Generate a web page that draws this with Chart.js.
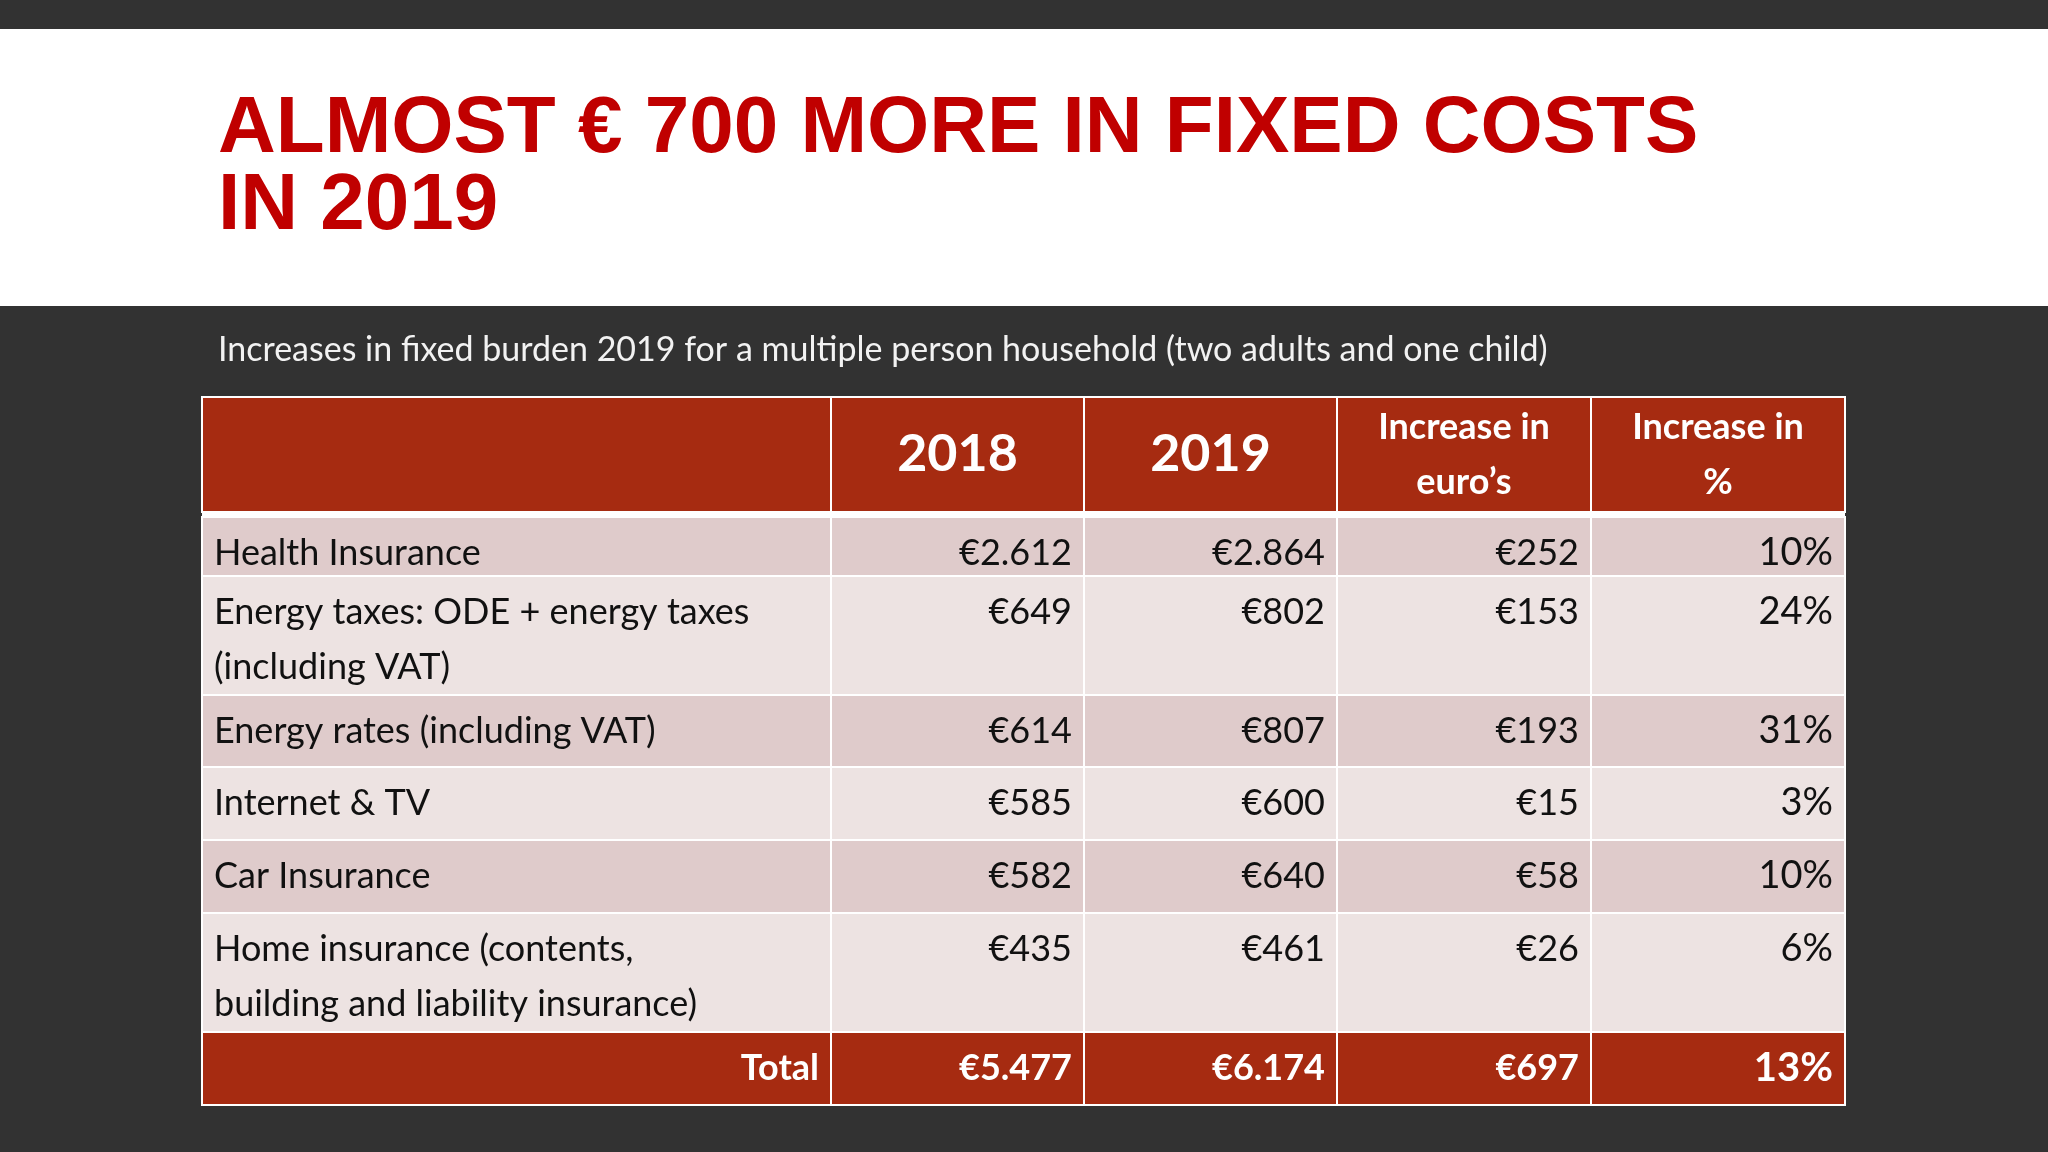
<!DOCTYPE html>
<html>
<head>
<meta charset="utf-8">
<script src="https://cdn.jsdelivr.net/npm/chart.js@4/dist/chart.umd.min.js"></script>
<style>
  html, body { margin: 0; padding: 0; background: #323232; }
  #wrap { width: 2048px; height: 1152px; }
</style>
</head>
<body>
<div id="wrap"><canvas id="myChart" width="2048" height="1152"></canvas></div>
<script>
// table content
const headers = ['', '2018', '2019', 'Increase in\neuro\u2019s', 'Increase in\n%'];
const categories = ['Health Insurance', 'Energy taxes: ODE + energy taxes\n(including VAT)', 'Energy rates (including VAT)', 'Internet & TV', 'Car Insurance', 'Home insurance (contents,\nbuilding and liability insurance)'];
const values2018 = ['€2.612', '€649', '€614', '€585', '€582', '€435'];
const values2019 = ['€2.864', '€802', '€807', '€600', '€640', '€461'];
const increaseEur = ['€252', '€153', '€193', '€15', '€58', '€26'];
const increasePct = ['10%', '24%', '31%', '3%', '10%', '6%'];
const totals = ['Total', '€5.477', '€6.174', '€697', '13%'];

// grid (in page units)
const colEdges = [202, 831, 1084, 1337, 1591, 1845];
const rowEdges = [397, 512, 517, 576, 695, 767, 840, 913, 1032, 1105];

const FONT = 'Lato, "Open Sans", sans-serif';

const tablePlugin = {
  id: 'table',
  beforeDraw(chart) {
    const c = chart.ctx, xs = chart.scales.x, ys = chart.scales.y;
    const X = v => xs.getPixelForValue(v), Y = v => ys.getPixelForValue(v);
    c.save();
    c.fillStyle = '#323232';
    c.fillRect(0, 0, chart.width, chart.height);
    c.fillStyle = '#ffffff';
    c.fillRect(X(0), Y(29), X(2048) - X(0), Y(306) - Y(29));

    // title
    c.fillStyle = '#c00000';
    c.font = '900 80px "Liberation Sans", Arial, sans-serif';
    c.textBaseline = 'middle';
    c.textAlign = 'left';
    c.fillText('ALMOST € 700 MORE IN FIXED COSTS', X(218), Y(130));
    c.fillText('IN 2019', X(218), Y(207));

    // subtitle
    c.fillStyle = '#f2f2f2';
    c.font = '34px ' + FONT;
    c.fillText('Increases in fixed burden 2019 for a multiple person household (two adults and one child)', X(218), Y(350));

    function cell(col, top, bottom, fill, text, opts) {
      const x0 = X(colEdges[col]), x1 = X(colEdges[col + 1]);
      const y0 = Y(top), y1 = Y(bottom);
      c.fillStyle = fill;
      c.fillRect(x0, y0, x1 - x0, y1 - y0);
      c.strokeStyle = '#ffffff';
      c.lineWidth = 2;
      c.strokeRect(x0, y0, x1 - x0, y1 - y0);
      if (!text) return;
      c.fillStyle = opts.color;
      c.font = opts.font;
      c.textAlign = opts.align;
      c.textBaseline = 'middle';
      const lines = text.split('\n');
      const tx = opts.align === 'left' ? x0 + 12 : opts.align === 'right' ? x1 - 12 : (x0 + x1) / 2;
      lines.forEach((ln, i) => {
        const ty = opts.vcenter ? (y0 + y1) / 2 + (i - (lines.length - 1) / 2) * opts.lh : y0 + 36 + i * opts.lh;
        c.fillText(ln, tx, ty);
      });
    }

    const red = '#a62b11';
    // header
    headers.forEach((h, i) => {
      const big = i === 1 || i === 2;
      cell(i, rowEdges[0], rowEdges[1], red, h, {
        color: '#ffffff', align: 'center', vcenter: true, lh: 55,
        font: (big ? 'bold 52px ' : 'bold 36px ') + FONT
      });
    });
    // gap
    c.fillStyle = '#ffffff';
    c.fillRect(X(colEdges[0]), Y(rowEdges[1]), X(colEdges[5]) - X(colEdges[0]), Y(rowEdges[2]) - Y(rowEdges[1]));
    // body
    categories.forEach((cat, r) => {
      const top = rowEdges[r + 2], bottom = rowEdges[r + 3];
      const fill = r % 2 === 0 ? '#dfcbcb' : '#ede3e2';
      const row = [cat, values2018[r], values2019[r], increaseEur[r], increasePct[r]];
      row.forEach((t, i) => cell(i, top, bottom, fill, t, {
        color: '#111111', align: i === 0 ? 'left' : 'right', vcenter: false, lh: 55,
        font: (i === 4 ? '38px ' : '36px ') + FONT
      }));
    });
    // total
    totals.forEach((t, i) => cell(i, rowEdges[8], rowEdges[9], red, t, {
      color: '#ffffff', align: 'right', vcenter: true, lh: 55,
      font: (i === 4 ? 'bold 40px ' : 'bold 36px ') + FONT
    }));
    c.restore();
  }
};

const ctx = document.getElementById('myChart').getContext('2d');
const chartInstance = new Chart(ctx, {
  type: 'scatter',
  data: { datasets: [{ data: [], pointRadius: 0 }] },
  options: {
    responsive: false,
    animation: false,
    layout: { padding: 0 },
    plugins: { legend: { display: false }, tooltip: { enabled: false } },
    scales: {
      x: { type: 'linear', min: 0, max: 2048, display: false },
      y: { type: 'linear', min: 0, max: 1152, reverse: true, display: false }
    }
  },
  plugins: [tablePlugin]
});
</script>
</body>
</html>
